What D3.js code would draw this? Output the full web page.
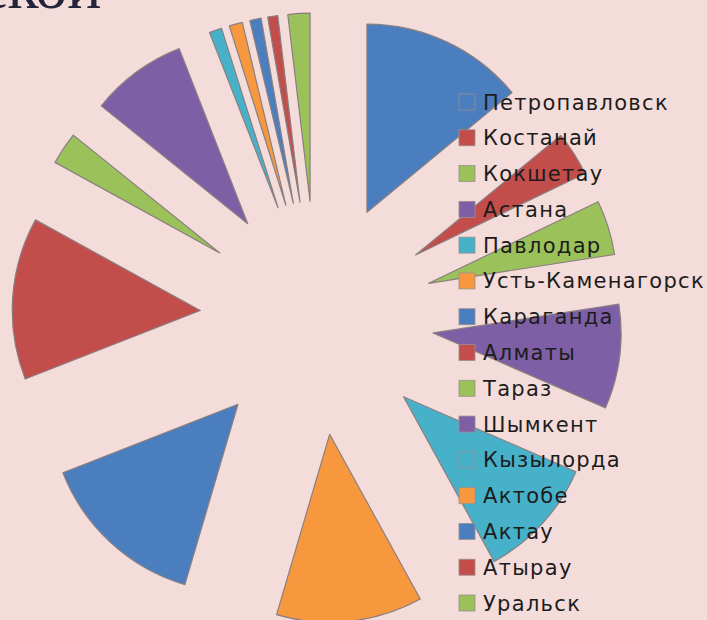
<!DOCTYPE html>
<html>
<head>
<meta charset="utf-8">
<script src="https://cdn.jsdelivr.net/npm/d3@7"></script>
<style>
  html, body { margin: 0; padding: 0; background: #f4dcda; overflow: hidden; }
  svg { display: block; }
</style>
</head>
<body>
<div id="chart"></div>
<script>
// cities in legend order (clockwise from 12 o'clock)
var cities = ['Петропавловск', 'Костанай', 'Кокшетау', 'Астана', 'Павлодар',
  'Усть-Каменагорск', 'Караганда', 'Алматы', 'Тараз', 'Шымкент',
  'Кызылорда', 'Актобе', 'Актау', 'Атырау', 'Уральск'];
// share of each city, %
var shares = [14.03, 3.83, 4.69, 8.97, 10.47, 12.56, 14.5, 13.94, 2.78, 8.28,
  1.08, 1.14, 0.97, 0.86, 1.89];
var palette = ['#4a7ebf', '#c24d4b', '#9bc15a', '#7e5fa5', '#47b1c9', '#f7983f'];
var titleText = 'ской';

var w = 707, h = 620;
var cx = 317, cy = 318,
    R = 188,      // slice radius
    explode = 117; // distance each slice is pulled out

var svg = d3.select('#chart')
  .append('svg')
  .attr('width', w)
  .attr('height', h);

svg.append('rect')
  .attr('width', w)
  .attr('height', h)
  .attr('fill', '#f4dcda');

// cropped slide title (only its bottom shows in the reference)
svg.append('text')
  .attr('x', -21)
  .attr('y', 8)
  .style('font-family', '"Liberation Serif", "DejaVu Serif", serif')
  .style('font-size', '64px')
  .attr('fill', '#23243a')
  .text(titleText);

var color = d3.scaleOrdinal()
  .domain(cities)
  .range(palette);

var pie = d3.pie()
  .sort(null)
  .value(function(d) { return d.value; });

var data = cities.map(function(c, i) { return {name: c, value: shares[i]}; });

var arc = d3.arc()
  .innerRadius(0)
  .outerRadius(R);

var g = svg.append('g')
  .attr('transform', 'translate(' + cx + ',' + cy + ')');

g.selectAll('path.slice')
  .data(pie(data))
  .enter()
  .append('path')
  .attr('class', 'slice')
  .attr('transform', function(d) {
    var a = (d.startAngle + d.endAngle) / 2;
    return 'translate(' + (explode * Math.sin(a)) + ',' + (-explode * Math.cos(a)) + ')';
  })
  .attr('d', arc)
  .attr('fill', function(d) { return color(d.data.name); })
  .attr('stroke', '#8a7f80')
  .attr('stroke-width', 1.2)
  .attr('stroke-linejoin', 'round');

// legend, drawn over the pie
var legY = d3.scalePoint()
  .domain(cities)
  .range([102, 603]);

var leg = svg.append('g').attr('class', 'legend');
var item = leg.selectAll('g')
  .data(cities)
  .enter()
  .append('g')
  .attr('transform', function(d) { return 'translate(459,' + legY(d) + ')'; });

item.append('rect')
  .attr('x', 0)
  .attr('y', -8)
  .attr('width', 16)
  .attr('height', 16)
  .attr('fill', function(d) { return color(d); })
  .attr('stroke', '#9a9090')
  .attr('stroke-width', 0.8);

item.append('text')
  .attr('x', 24)
  .attr('y', 0)
  .attr('dy', '0.36em')
  .style('font-family', '"DejaVu Sans", Verdana, sans-serif')
  .style('font-size', '21px')
  .style('letter-spacing', '1.3px')
  .attr('fill', '#1c1c1c')
  .text(function(d) { return d; });
</script>
</body>
</html>
